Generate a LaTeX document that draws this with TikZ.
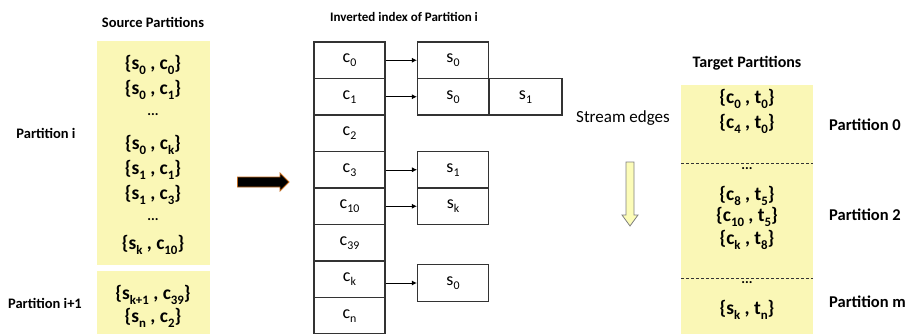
\documentclass[tikz,border=0pt]{standalone}
\usepackage{fontspec}
\setmainfont{Carlito}
\usetikzlibrary{arrows.meta}
\definecolor{padfill}{HTML}{FAF7B6}
\definecolor{boxline}{HTML}{333333}
\definecolor{arrowedge}{HTML}{C06A20}
\definecolor{hollowfill}{HTML}{FCFCB8}
% subscript at about two thirds of the current size
\makeatletter
\newcommand\dn[1]{\raisebox{-0.45ex}{\fontsize{\strip@pt\dimexpr0.66\dimexpr\f@size pt\relax\relax}{1}\selectfont #1}}
\makeatother
\newcommand\ellip{{\fontsize{14}{14}\selectfont\textbf{...}}}
\tikzset{
  title/.style={font=\fontsize{14.5}{15}\selectfont\bfseries, inner sep=0pt},
  pairtxt/.style={font=\fontsize{19.5}{20}\selectfont\bfseries, inner sep=0pt},
  sidelabel/.style={font=\fontsize{14.5}{15}\selectfont\bfseries, inner sep=0pt},
  cell/.style={draw=boxline, line width=1.2pt, minimum width=71pt, minimum height=36.5pt,
    inner sep=0pt, font=\fontsize{18}{19}\selectfont},
  link/.style={-{Latex[length=5pt,width=5pt]}, line width=0.9pt, black},
}
\begin{document}
\begin{tikzpicture}[x=1pt,y=-1pt]
\useasboundingbox (0,0) rectangle (905,333);

% ---- source partitions ----
\node[title] (srctitle) at (153,22) {Source Partitions};
\fill[padfill] (97,41) rectangle (210,265);
\fill[padfill] (97,271) rectangle (210,336);
\node[pairtxt] (p1) at (153,65) {\{s\dn{0} , c\dn{0}\}};
\node[pairtxt] (p2) at (153,90) {\{s\dn{0} , c\dn{1}\}};
\node[inner sep=0pt] (p3) at (153,115) {\ellip};
\node[pairtxt] (p4) at (153,145) {\{s\dn{0} , c\dn{k}\}};
\node[pairtxt] (p5) at (153,170) {\{s\dn{1} , c\dn{1}\}};
\node[pairtxt] (p6) at (153,195) {\{s\dn{1} , c\dn{3}\}};
\node[inner sep=0pt] (p7) at (153,220) {\ellip};
\node[pairtxt] (p8) at (153,245) {\{s\dn{k} , c\dn{10}\}};
\node[pairtxt] (p9) at (153,295) {\{s\dn{k+1} , c\dn{39}\}};
\node[pairtxt] (p10) at (153,318) {\{s\dn{n} , c\dn{2}\}};
\node[sidelabel] (pi) at (46,133) {Partition i};
\node[sidelabel] (pi1) at (45,303) {Partition i+1};

% ---- block arrow ----
\fill[black, draw=arrowedge, line width=0.8pt]
  (237.5,177) -- (280,177) -- (280,173) -- (289,182) -- (280,191) -- (280,187) -- (237.5,187) -- cycle;

% ---- inverted index ----
\node[title, font=\fontsize{13}{14}\selectfont\bfseries] (idxtitle) at (404,17) {Inverted index of Partition i};
\foreach \nm/\lab [count=\r from 0] in {c0/c\dn{0}, c1/c\dn{1}, c2/c\dn{2}, c3/c\dn{3},
    c10/c\dn{10}, c39/c\dn{39}, ck/c\dn{k}, cn/c\dn{n}} {
  \node[cell] (\nm) at (349.5,{60.25+36.5*\r}) {\lab};
}
\node[cell] (sa) at (453,60.25) {s\dn{0}};
\node[cell] (sb) at (453,96.75) {s\dn{0}};
\node[cell, minimum width=73pt] (sc) at (525.5,96.75) {s\dn{1}};
\node[cell] (sd) at (453,169.75) {s\dn{1}};
\node[cell] (se) at (453,206.25) {s\dn{k}};
\node[cell] (sf) at (453,283) {s\dn{0}};
\draw[link] (c0.east) -- (sa.west);
\draw[link] (c1.east) -- (sb.west);
\draw[link, line width=0.5pt] (c3.east) -- (sd.west);
\draw[link] (c10.east) -- (se.west);
\draw[link] (sf.west -| ck.east) -- (sf.west);

% ---- stream edges ----
\node[font=\fontsize{17}{18}\selectfont, inner sep=0pt] (stream) at (623,118) {Stream edges};
\draw[draw=gray, fill=hollowfill, line width=0.8pt]
  (626,162) -- (634,162) -- (634,215) -- (638,215) -- (630,226) -- (622,215) -- (626,215) -- cycle;

% ---- target partitions ----
\node[title, font=\fontsize{16}{17}\selectfont\bfseries] (tgttitle) at (747,63) {Target Partitions};
\fill[padfill] (681,85) rectangle (813,336);
\draw[dash pattern=on 3pt off 2pt, line width=0.9pt, black!80] (681,163) -- (813,163);
\draw[dash pattern=on 3pt off 2pt, line width=0.9pt, black!80] (681,278) -- (813,278);
\node[pairtxt] (t1) at (747,99) {\{c\dn{0} , t\dn{0}\}};
\node[pairtxt] (t2) at (747,124) {\{c\dn{4} , t\dn{0}\}};
\node[inner sep=0pt] (t3) at (747,169) {\ellip};
\node[pairtxt] (t4) at (747,196) {\{c\dn{8} , t\dn{5}\}};
\node[pairtxt] (t5) at (747,217) {\{c\dn{10} , t\dn{5}\}};
\node[pairtxt] (t6) at (747,240) {\{c\dn{k} , t\dn{8}\}};
\node[inner sep=0pt] (t7) at (747,283) {\ellip};
\node[pairtxt] (t8) at (747,310) {\{s\dn{k} , t\dn{n}\}};
\node[sidelabel, font=\fontsize{16.5}{17}\selectfont\bfseries, anchor=west] (q0) at (829,125) {Partition 0};
\node[sidelabel, font=\fontsize{16.5}{17}\selectfont\bfseries, anchor=west] (q2) at (829,215) {Partition 2};
\node[sidelabel, font=\fontsize{16.5}{17}\selectfont\bfseries, anchor=west] (qm) at (829,302) {Partition m};
\end{tikzpicture}
\end{document}
